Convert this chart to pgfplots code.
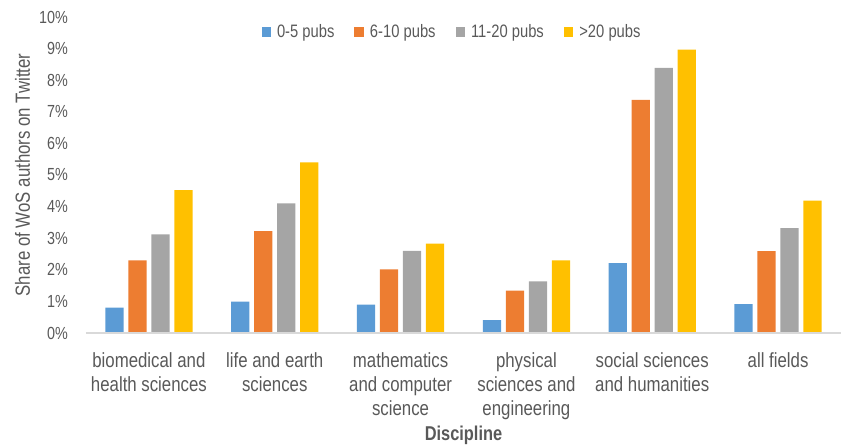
\documentclass[border=0pt]{standalone}
\usepackage{pgfplots}
\pgfplotsset{compat=1.18}
\usepackage{fontspec}
\setmainfont{Liberation Sans}[FakeStretch=0.82]
\definecolor{txt}{HTML}{595959}
\definecolor{axisgray}{HTML}{D9D9D9}
\definecolor{sblue}{HTML}{5B9BD5}
\definecolor{sorange}{HTML}{ED7D31}
\definecolor{sgray}{HTML}{A5A5A5}
\definecolor{syellow}{HTML}{FFC000}
\begin{document}
\begin{tikzpicture}
\begin{axis}[
  scale only axis, width=755pt, height=316pt,
  ybar=4.7pt, bar width=18.3pt,
  xmin=-0.5, xmax=5.5, ymin=0, ymax=10,
  xtick={0,...,5},
  xticklabels={{biomedical and\\health sciences},{life and earth\\sciences},{mathematics\\and computer\\science},{physical\\sciences and\\engineering},{social sciences\\and humanities},{all fields}},
  ytick={0,...,10},
  yticklabels={0\%,1\%,2\%,3\%,4\%,5\%,6\%,7\%,8\%,9\%,10\%},
  axis line style={draw=none},
  major tick length=0pt,
  xticklabel style={align=center, inner sep=0pt, anchor=north, yshift=-19pt, text=txt, font=\fontsize{20.5}{24}\selectfont},
  yticklabel style={inner sep=0pt, anchor=east, xshift=-18pt, text=txt, font=\fontsize{17.5}{20}\selectfont},
  ylabel={Share of WoS authors on Twitter},
  ylabel style={at={(axis description cs:-0.0841,0.5)}, anchor=center, text=txt, font=\fontsize{20.5}{24}\selectfont},
  xlabel={Discipline},
  xlabel style={at={(axis description cs:0.5,0)}, anchor=center, yshift=-102pt, text=txt, font=\fontsize{20}{24}\selectfont\bfseries},
  legend columns=4,
  legend style={at={(axis description cs:0.4848,0.9525)}, anchor=center, draw=none, fill=none,
    font=\fontsize{18}{20}\selectfont, text=txt,
    /tikz/every even column/.append style={column sep=18pt}},
  legend image code/.code={\fill[#1] (0pt,-4.75pt) rectangle (9.5pt,4.75pt); \path (13.5pt,0pt);},
  after end axis/.code={\draw[line width=1.5pt, color=axisgray] (rel axis cs:0,0) -- (rel axis cs:1,0);},
]
\addplot[fill=sblue, draw=none] coordinates {(0,0.80) (1,0.99) (2,0.90) (3,0.41) (4,2.21) (5,0.91)};
\addlegendentry{0-5 pubs}
\addplot[fill=sorange, draw=none] coordinates {(0,2.30) (1,3.22) (2,2.01) (3,1.34) (4,7.38) (5,2.59)};
\addlegendentry{6-10 pubs}
\addplot[fill=sgray, draw=none] coordinates {(0,3.12) (1,4.10) (2,2.60) (3,1.63) (4,8.39) (5,3.32)};
\addlegendentry{11-20 pubs}
\addplot[fill=syellow, draw=none] coordinates {(0,4.52) (1,5.40) (2,2.83) (3,2.30) (4,8.97) (5,4.19)};
\addlegendentry{>20 pubs}
\end{axis}
\pgfresetboundingbox
\path (-86pt,-113pt) rectangle (755pt,333pt);
\end{tikzpicture}
\end{document}
